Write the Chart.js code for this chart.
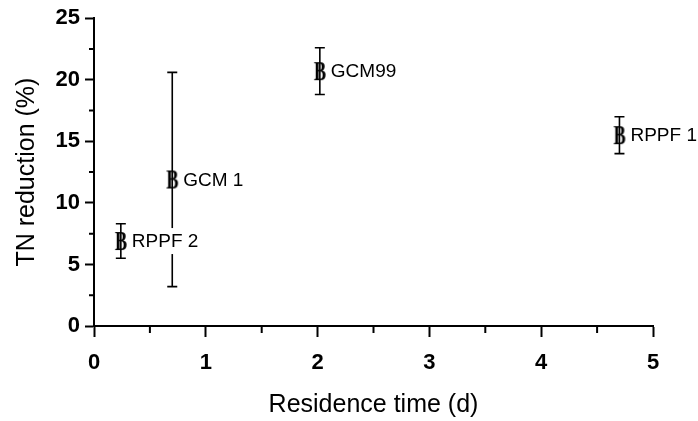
<!DOCTYPE html>
<html lang="en">
<head>
<meta charset="UTF-8">
<title>TN reduction vs residence time</title>
<script src="https://cdn.jsdelivr.net/npm/chart.js@4.4.1/dist/chart.umd.min.js"></script>
<style>
  html, body { margin:0; padding:0; background:#ffffff; }
</style>
</head>
<body>
<canvas id="tn_chart" width="698" height="421"></canvas>
<script>
// data
const systems = ['RPPF 2', 'GCM 1', 'GCM99', 'RPPF 1'];
const residence_time = [0.24, 0.70, 2.02, 4.70];
const tn_reduction = [6.9, 11.9, 20.7, 15.5];
const tn_error = [1.4, 8.7, 1.9, 1.5];

const SANS = '"Liberation Sans", Arial, sans-serif';

// "B" marker like the old Origin plot symbol
function makeMarker() {
  const c = document.createElement('canvas');
  c.width = 18; c.height = 26;
  const g = c.getContext('2d');
  g.fillStyle = '#000';
  g.font = 'bold 27px "Liberation Serif", serif';
  g.textAlign = 'center';
  g.textBaseline = 'alphabetic';
  g.translate(9, 0);
  g.scale(0.68, 1);
  g.fillText('B', 0, 22);
  return c;
}
const marker = makeMarker();

const errorPlugin = {
  id: 'errorPlugin',
  beforeDatasetsDraw(chart) {
    const {ctx, scales: {x, y}} = chart;
    ctx.save();
    ctx.strokeStyle = '#000';
    ctx.lineWidth = 1.6;
    residence_time.forEach((t, i) => {
      const px = x.getPixelForValue(t);
      const top = y.getPixelForValue(tn_reduction[i] + tn_error[i]);
      const bot = y.getPixelForValue(tn_reduction[i] - tn_error[i]);
      ctx.beginPath();
      ctx.moveTo(px, top); ctx.lineTo(px, bot);
      ctx.moveTo(px - 5, top); ctx.lineTo(px + 5, top);
      ctx.moveTo(px - 5, bot); ctx.lineTo(px + 5, bot);
      ctx.stroke();
    });
    ctx.restore();
  },
  afterDatasetsDraw(chart) {
    const {ctx, scales: {x, y}} = chart;
    ctx.save();
    ctx.font = '19px ' + SANS;
    ctx.textBaseline = 'middle';
    systems.forEach((name, i) => {
      const px = x.getPixelForValue(residence_time[i]) + 11;
      const py = y.getPixelForValue(tn_reduction[i]);
      const w = ctx.measureText(name).width;
      ctx.fillStyle = '#fff';
      ctx.fillRect(px - 1, py - 13, w + 2, 26);
      ctx.fillStyle = '#000';
      ctx.fillText(name, px, py + 1);
    });
    ctx.restore();
  },
  afterDraw(chart) {
    // minor ticks
    const {ctx, scales: {x, y}} = chart;
    ctx.save();
    ctx.strokeStyle = '#000';
    ctx.lineWidth = 2;
    ctx.beginPath();
    for (let v = 0.5; v < 5; v += 1) {
      const px = x.getPixelForValue(v);
      ctx.moveTo(px, y.bottom); ctx.lineTo(px, y.bottom + 7);
    }
    for (let v = 2.5; v < 25; v += 5) {
      const py = y.getPixelForValue(v);
      ctx.moveTo(x.left, py); ctx.lineTo(x.left - 5, py);
    }
    ctx.stroke();
    ctx.restore();
  }
};

const ctx = document.getElementById('tn_chart').getContext('2d');
const chart = new Chart(ctx, {
  type: 'scatter',
  data: {
    datasets: [{
      label: 'TN reduction',
      data: residence_time.map((t, i) => ({x: t, y: tn_reduction[i]})),
      pointStyle: marker,
      pointRadius: 9,
      pointHoverRadius: 9
    }]
  },
  options: {
    responsive: false,
    animation: false,
    layout: { padding: { left: 0, top: 15, right: 45, bottom: 1 } },
    plugins: { legend: { display: false }, tooltip: { enabled: false } },
    scales: {
      x: {
        type: 'linear',
        min: 0, max: 5,
        afterFit: s => { s.height = 421 - 326 - 1; },
        border: { display: true, color: '#000', width: 2 },
        grid: { display: true, drawOnChartArea: false, drawTicks: true, tickLength: 11, tickColor: '#000', tickWidth: 2 },
        ticks: { stepSize: 1, color: '#000', padding: 13, font: { family: SANS, size: 22, weight: 'bold' } },
        title: { display: true, text: 'Residence time (d)', color: '#000', padding: { top: 0, bottom: 0 }, font: { family: SANS, size: 25 } }
      },
      y: {
        type: 'linear',
        min: 0, max: 25,
        afterFit: s => { s.width = 94; },
        border: { display: true, color: '#000', width: 2 },
        grid: { display: true, drawOnChartArea: false, drawTicks: true, tickLength: 9, tickColor: '#000', tickWidth: 2 },
        ticks: { stepSize: 5, color: '#000', padding: 5, font: { family: SANS, size: 22, weight: 'bold' } },
        title: { display: true, text: 'TN reduction (%)', color: '#000', padding: { top: 12, bottom: 0 }, font: { family: SANS, size: 25 } }
      }
    }
  },
  plugins: [errorPlugin]
});
</script>
</body>
</html>
